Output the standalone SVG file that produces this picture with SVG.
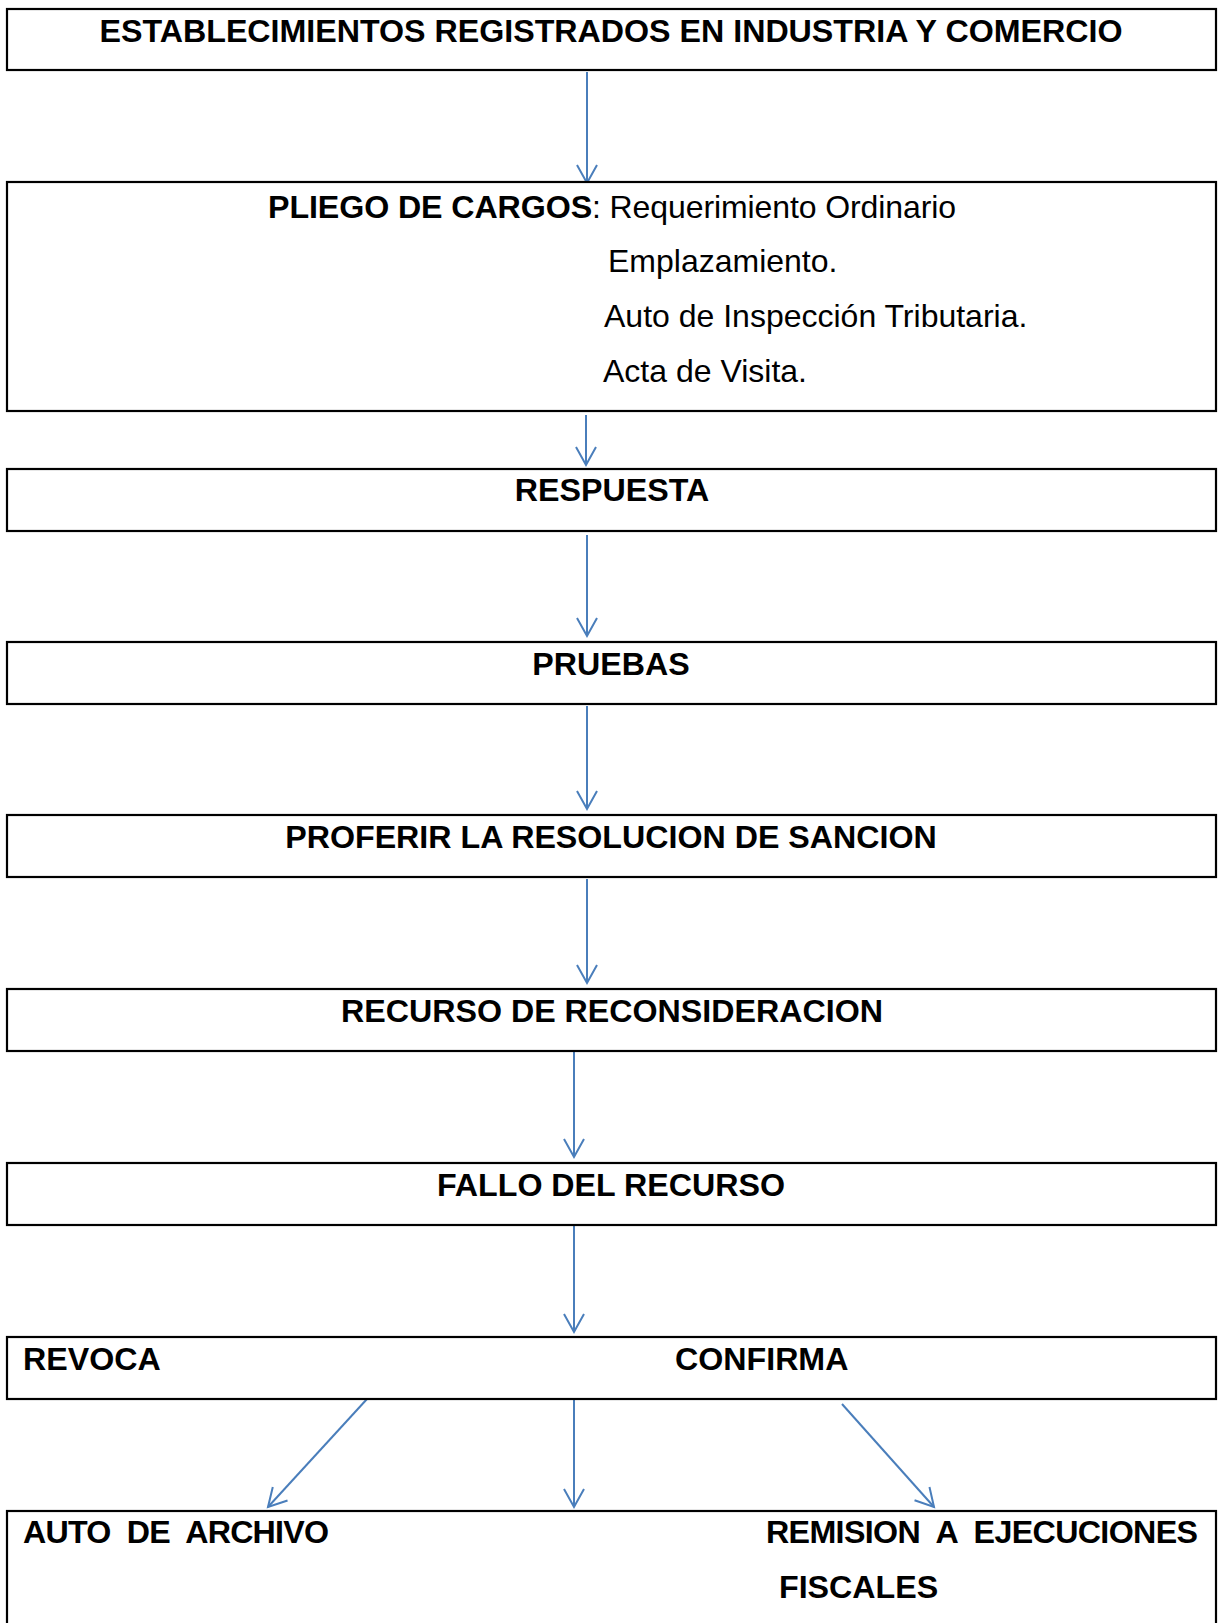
<svg xmlns="http://www.w3.org/2000/svg" width="1220" height="1623" viewBox="0 0 1220 1623">
<style>
.box{fill:#fff;stroke:#000;stroke-width:2.2}
.t{font-family:"Liberation Sans",Arial,sans-serif;font-size:32px;fill:#000}
.b{font-weight:bold;font-size:32.2px}
.c{text-anchor:middle}
.ar{stroke:#4A7EBB;stroke-width:2;fill:none;marker-end:url(#ah)}
</style>
<defs>
<marker id="ah" markerUnits="userSpaceOnUse" viewBox="-20 -12 22 24" refX="0" refY="0" markerWidth="22" markerHeight="24" orient="auto" overflow="visible">
<path d="M-18,-10 L0,0 L-18,10" fill="none" stroke="#4A7EBB" stroke-width="2"/>
</marker>
</defs>
<rect width="1220" height="1623" fill="#fff"/>
<g id="connectors">
<line class="ar" x1="587" y1="72" x2="587" y2="183"/>
<line class="ar" x1="586" y1="415" x2="586" y2="465"/>
<line class="ar" x1="587" y1="535" x2="587" y2="636"/>
<line class="ar" x1="587" y1="706" x2="587" y2="809"/>
<line class="ar" x1="587" y1="879" x2="587" y2="983"/>
<line class="ar" x1="574" y1="1052" x2="574" y2="1157"/>
<line class="ar" x1="574" y1="1226" x2="574" y2="1332"/>
<line class="ar" x1="367" y1="1399" x2="268" y2="1507"/>
<line class="ar" x1="574" y1="1399" x2="574" y2="1507"/>
<line class="ar" x1="842" y1="1404" x2="934" y2="1507"/>
</g>
<g id="n1">
<rect class="box" x="7" y="9" width="1209" height="61"/>
<text class="t b c" x="611" y="42">ESTABLECIMIENTOS REGISTRADOS EN INDUSTRIA Y COMERCIO</text>
</g>
<g id="n2">
<rect class="box" x="7" y="182" width="1209" height="229"/>
<text class="t" x="268" y="218" textLength="688" lengthAdjust="spacing"><tspan class="b">PLIEGO DE CARGOS</tspan>: Requerimiento Ordinario</text>
<text class="t" x="608" y="272">Emplazamiento.</text>
<text class="t" x="604" y="327">Auto de Inspección Tributaria.</text>
<text class="t" x="603" y="382">Acta de Visita.</text>
</g>
<g id="n3">
<rect class="box" x="7" y="469" width="1209" height="62"/>
<text class="t b c" x="612" y="501">RESPUESTA</text>
</g>
<g id="n4">
<rect class="box" x="7" y="642" width="1209" height="62"/>
<text class="t b c" x="611" y="675">PRUEBAS</text>
</g>
<g id="n5">
<rect class="box" x="7" y="815" width="1209" height="62"/>
<text class="t b c" x="611" y="848">PROFERIR LA RESOLUCION DE SANCION</text>
</g>
<g id="n6">
<rect class="box" x="7" y="989" width="1209" height="62"/>
<text class="t b c" x="612" y="1022">RECURSO DE RECONSIDERACION</text>
</g>
<g id="n7">
<rect class="box" x="7" y="1163" width="1209" height="62"/>
<text class="t b c" x="611" y="1196">FALLO DEL RECURSO</text>
</g>
<g id="n8">
<rect class="box" x="7" y="1337" width="1209" height="62"/>
<text class="t b" x="23" y="1370">REVOCA</text>
<text class="t b" x="675" y="1370">CONFIRMA</text>
</g>
<g id="n9">
<rect class="box" x="7" y="1511" width="1209" height="140"/>
<text class="t b" x="23" y="1543" xml:space="preserve" textLength="306" lengthAdjust="spacing">AUTO  DE  ARCHIVO</text>
<text class="t b" x="766" y="1543" xml:space="preserve" textLength="432" lengthAdjust="spacing">REMISION  A  EJECUCIONES</text>
<text class="t b" x="779" y="1598">FISCALES</text>
</g>
</svg>
